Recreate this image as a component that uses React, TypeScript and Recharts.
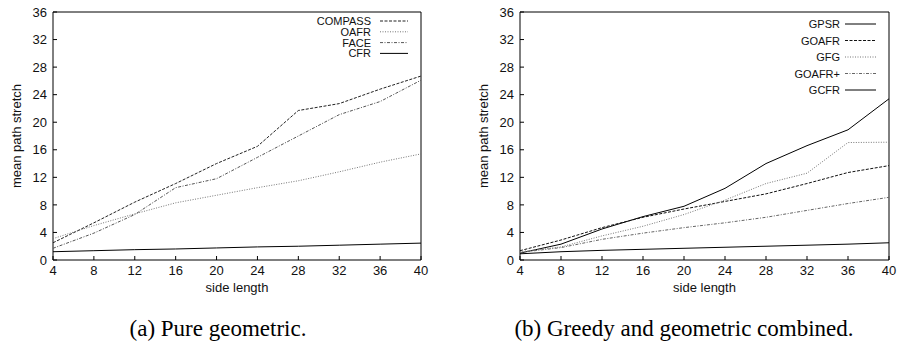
import { LineChart, Line, XAxis, YAxis, ReferenceArea } from "recharts";

// x positions (side length)
const sideLength = [4, 8, 12, 16, 20, 24, 28, 32, 36, 40];
const yTicks = [0, 4, 8, 12, 16, 20, 24, 28, 32, 36];

// (a) pure geometric
const compass = [2.5, 5.4, 8.4, 11.1, 14.0, 16.5, 21.7, 22.7, 24.8, 26.7];
const oafr = [3.1, 5.0, 6.7, 8.3, 9.4, 10.5, 11.5, 12.8, 14.2, 15.4];
const face = [1.7, 3.9, 6.6, 10.5, 11.8, 14.9, 18.0, 21.1, 23.0, 26.1];
const cfr = [1.2, 1.35, 1.5, 1.6, 1.75, 1.9, 2.0, 2.15, 2.3, 2.45];

// (b) greedy and geometric combined
const gpsr = [1.0, 2.3, 4.5, 6.3, 7.8, 10.4, 14.0, 16.6, 18.9, 23.4];
const goafr = [1.35, 2.9, 4.7, 6.2, 7.4, 8.5, 9.6, 11.1, 12.7, 13.7];
const gfg = [1.2, 1.9, 3.5, 4.9, 6.6, 8.7, 11.1, 12.6, 17.05, 17.1];
const goafrPlus = [1.1, 1.8, 3.0, 3.9, 4.7, 5.4, 6.2, 7.2, 8.2, 9.1];
const gcfr = [0.9, 1.2, 1.4, 1.55, 1.7, 1.85, 2.0, 2.15, 2.3, 2.5];

const dashed = "3 1.5";
const dotted = "1 1.5";
const dashDot = "3 1.5 1 1.5";

const seriesA = [
  { key: "COMPASS", values: compass, color: "#222", dash: dashed },
  { key: "OAFR", values: oafr, color: "#777", dash: dotted },
  { key: "FACE", values: face, color: "#555", dash: dashDot },
  { key: "CFR", values: cfr, color: "#000", dash: undefined },
];

const seriesB = [
  { key: "GPSR", values: gpsr, color: "#000", dash: undefined },
  { key: "GOAFR", values: goafr, color: "#111", dash: dashed },
  { key: "GFG", values: gfg, color: "#777", dash: dotted },
  { key: "GOAFR+", values: goafrPlus, color: "#666", dash: dashDot },
  { key: "GCFR", values: gcfr, color: "#000", dash: undefined },
];

type Series = typeof seriesA;

const toRows = (series: Series) =>
  sideLength.map((x, i) => {
    const row: Record<string, number> = { x };
    series.forEach((s) => {
      row[s.key] = s.values[i];
    });
    return row;
  });

const font = "'Liberation Sans', Arial, sans-serif";
const serif = "'Liberation Serif', 'Times New Roman', serif";
const tickStyle = { fontSize: 13, fill: "#111", fontFamily: font };

function Panel({
  series,
  width,
  yAxisWidth,
  rightMargin,
  labelOffset,
}: {
  series: Series;
  width: number;
  yAxisWidth: number;
  rightMargin: number;
  labelOffset: number;
}) {
  return (
    <LineChart
      width={width}
      height={300}
      data={toRows(series)}
      margin={{ top: 12, right: rightMargin, bottom: 0, left: 0 }}
    >
      <XAxis
        dataKey="x"
        type="number"
        domain={[4, 40]}
        ticks={sideLength}
        axisLine={false}
        tickSize={-4}
        tickMargin={10}
        tickLine={{ stroke: "#000" }}
        tick={tickStyle}
        height={40}
        label={{
          value: "side length",
          position: "insideBottom",
          offset: 8,
          style: { fontSize: 13, fill: "#111", fontFamily: font },
        }}
      />
      <YAxis
        type="number"
        domain={[0, 36]}
        ticks={yTicks}
        axisLine={false}
        tickSize={-4}
        tickMargin={10}
        tickLine={{ stroke: "#000" }}
        tick={tickStyle}
        width={yAxisWidth}
        label={{
          value: "mean path stretch",
          angle: -90,
          position: "insideLeft",
          offset: labelOffset,
          style: {
            fontSize: 13,
            fill: "#111",
            fontFamily: font,
            textAnchor: "middle",
          },
        }}
      />
      <ReferenceArea
        x1={4}
        x2={40}
        y1={0}
        y2={36}
        fill="none"
        fillOpacity={0}
        stroke="#000"
        strokeWidth={1}
      />
      {series.map((s) => (
        <Line
          key={s.key}
          dataKey={s.key}
          stroke={s.color}
          strokeWidth={1}
          strokeDasharray={s.dash}
          dot={false}
          isAnimationActive={false}
        />
      ))}
    </LineChart>
  );
}

function LegendBox({
  series,
  textRight,
  top,
  step,
  lineFrom,
  lineTo,
}: {
  series: Series;
  textRight: number;
  top: number;
  step: number;
  lineFrom: number;
  lineTo: number;
}) {
  return (
    <g>
      {series.map((s, i) => (
        <g key={s.key}>
          <text
            x={textRight}
            y={top + i * step + 4}
            textAnchor="end"
            fontSize={11}
            fill="#111"
            fontFamily={font}
          >
            {s.key}
          </text>
          <line
            x1={lineFrom}
            x2={lineTo}
            y1={top + i * step}
            y2={top + i * step}
            stroke={s.color}
            strokeWidth={1}
            strokeDasharray={s.dash}
          />
        </g>
      ))}
    </g>
  );
}

export default function App() {
  return (
    <div
      style={{
        position: "absolute",
        left: 0,
        top: 0,
        width: 897,
        height: 343,
        background: "#fff",
      }}
    >
      <div style={{ position: "absolute", left: 0, top: 0 }}>
        <Panel series={seriesA} width={448} yAxisWidth={53} rightMargin={27} labelOffset={16} />
      </div>
      <div style={{ position: "absolute", left: 447, top: 0 }}>
        <Panel series={seriesB} width={450} yAxisWidth={73} rightMargin={8} labelOffset={36} />
      </div>
      <svg
        width={897}
        height={343}
        style={{ position: "absolute", left: 0, top: 0, pointerEvents: "none" }}
      >
        <LegendBox series={seriesA} textRight={371} top={21} step={10.8} lineFrom={380} lineTo={408} />
        <LegendBox series={seriesB} textRight={840} top={24} step={16.5} lineFrom={845} lineTo={876} />
        <text x={218} y={336} textAnchor="middle" fontSize={23} fill="#000" fontFamily={serif}>
          (a) Pure geometric.
        </text>
        <text x={684} y={336} textAnchor="middle" fontSize={23} fill="#000" fontFamily={serif}>
          (b) Greedy and geometric combined.
        </text>
      </svg>
    </div>
  );
}
